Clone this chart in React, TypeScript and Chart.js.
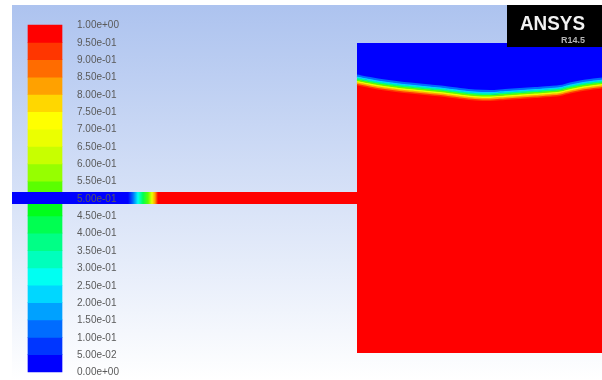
import { useEffect, useRef } from "react";
import { Chart, registerables } from "chart.js";

Chart.register(...registerables);

// ---- Legend (contour levels of volume fraction) ----
const levels = [0, 0.05, 0.1, 0.15, 0.2, 0.25, 0.3, 0.35, 0.4, 0.45, 0.5, 0.55, 0.6, 0.65, 0.7, 0.75, 0.8, 0.85, 0.9, 0.95, 1.0];
const levelLabels = [
  "0.00e+00", "5.00e-02", "1.00e-01", "1.50e-01", "2.00e-01", "2.50e-01", "3.00e-01",
  "3.50e-01", "4.00e-01", "4.50e-01", "5.00e-01", "5.50e-01", "6.00e-01", "6.50e-01",
  "7.00e-01", "7.50e-01", "8.00e-01", "8.50e-01", "9.00e-01", "9.50e-01", "1.00e+00",
];
const bandColors = [
  "#0000ff", "#0036ff", "#006cff", "#00a1ff", "#00d7ff", "#00fff2", "#00ffbc",
  "#00ff86", "#00ff51", "#00ff1b", "#5aff00", "#96ff00", "#c8ff00", "#ebff00",
  "#ffff00", "#ffd700", "#ffa100", "#ff6c00", "#ff3600", "#ff0000",
];

// ---- Inlet channel: volume fraction along the channel ----
const channelX = [12, 128, 133, 138, 143, 148, 152, 155, 158, 357];
const channelPhi = [0, 0, 0.12, 0.27, 0.4, 0.5, 0.68, 0.8, 1, 1];

// ---- Tank: free-surface (interface) profile ----
const interfaceX = [357, 370, 385, 400, 415, 430, 445, 460, 475, 490, 505, 520, 535, 550, 560, 570, 580, 590, 602];
const interfaceY = [80, 82.5, 85, 87, 88.5, 90, 91.5, 93.5, 95, 95.5, 94.5, 93.5, 92.5, 91.5, 90.5, 88, 86, 84.5, 83];

// transition layer across the interface
const bandOffsets = [-4.5, -3, -1.5, 0, 1.5, 3, 4.5];
const bandPhi = [0.1, 0.22, 0.38, 0.5, 0.68, 0.8, 0.92];

// ---- layout (figure units) ----
const W = 602;
const H = 380;
const FRAME_LEFT = 12;
const FRAME_TOP = 5;
const BAR_X = 45;
const BAR_WIDTH = 34;
const BAR_TOP = 25;
const BAR_BOTTOM = 372;
const LABEL_X = 77;
const CHANNEL = { x0: 12, x1: 357, top: 192, bottom: 204 };
const TANK = { left: 357, right: 602, top: 43, bottom: 353 };
const LOGO = { x: 507, y: 5, w: 95, h: 42 };

const colorFor = (phi: number) =>
  bandColors[Math.min(bandColors.length - 1, Math.max(0, Math.floor(phi * 20 + 1e-9)))];

const TRANSPARENT = "rgba(0,0,0,0)";

const bgPlugin = {
  id: "bg",
  beforeDraw(chart: any) {
    const ctx = chart.ctx;
    ctx.save();
    ctx.fillStyle = "#ffffff";
    ctx.fillRect(0, 0, W, H);
    const g = ctx.createLinearGradient(0, FRAME_TOP, 0, H);
    g.addColorStop(0, "#adc3ef");
    g.addColorStop(1, "#ffffff");
    ctx.fillStyle = g;
    ctx.fillRect(FRAME_LEFT, FRAME_TOP, W - FRAME_LEFT, H - FRAME_TOP);
    ctx.restore();
  },
};

const overlayPlugin = {
  id: "overlay",
  afterDraw(chart: any) {
    const ctx = chart.ctx;
    const yb = chart.scales.yBar;
    ctx.save();
    ctx.font = '10px "Liberation Sans", Arial, sans-serif';
    ctx.fillStyle = "#5a5a5a";
    ctx.textAlign = "left";
    ctx.textBaseline = "middle";
    levels.forEach((v, i) => {
      ctx.fillText(levelLabels[i], LABEL_X, yb.getPixelForValue(v) + 0.5);
    });

    // ANSYS logo
    ctx.fillStyle = "#000000";
    ctx.fillRect(LOGO.x, LOGO.y, LOGO.w, LOGO.h);
    ctx.font = 'bold 21px "Liberation Sans", Arial, sans-serif';
    ctx.textBaseline = "alphabetic";
    const tw = ctx.measureText("ANSYS").width;
    ctx.save();
    ctx.translate(520, 30);
    ctx.scale(65 / tw, 1);
    ctx.fillStyle = "#f2f2f2";
    ctx.fillText("ANSYS", 0, 0);
    ctx.restore();
    ctx.font = 'bold 9px "Liberation Sans", Arial, sans-serif';
    ctx.fillStyle = "#b4b4b4";
    ctx.textAlign = "right";
    ctx.fillText("R14.5", 585, 43);
    ctx.restore();
  },
};

export default function App() {
  const ref = useRef<HTMLCanvasElement | null>(null);

  useEffect(() => {
    if (!ref.current) return;
    const pts = (xs: number[], ys: number[], off = 0) => xs.map((x, i) => ({ x, y: ys[i] + off }));

    const channelFill = (c: any) => {
      const chart = c.chart;
      const xs = chart.scales?.x;
      if (!chart.chartArea || !xs) return bandColors[0];
      const p0 = xs.getPixelForValue(channelX[0]);
      const p1 = xs.getPixelForValue(channelX[channelX.length - 1]);
      const g = chart.ctx.createLinearGradient(p0, 0, p1, 0);
      channelX.forEach((x, i) => {
        g.addColorStop((xs.getPixelForValue(x) - p0) / (p1 - p0), colorFor(channelPhi[i]));
      });
      return g;
    };

    const bandSets = bandOffsets.map((off, k) => ({
      type: "line" as const,
      label: "interface-" + k,
      data: pts(interfaceX, interfaceY, off),
      borderColor: colorFor(bandPhi[k]),
      borderWidth: 1.9,
      borderCapStyle: "butt",
      fill: false,
      cubicInterpolationMode: "monotone",
      order: 20,
    }));

    const chart = new Chart(ref.current, {
      type: "line",
      data: {
        datasets: [
          {
            type: "line",
            label: "channel",
            data: [
              { x: CHANNEL.x0, y: CHANNEL.top },
              { x: CHANNEL.x1, y: CHANNEL.top },
            ],
            borderColor: TRANSPARENT,
            borderWidth: 0,
            fill: "+1",
            backgroundColor: channelFill,
            order: 10,
          },
          {
            type: "line",
            label: "channel-bottom",
            data: [
              { x: CHANNEL.x0, y: CHANNEL.bottom },
              { x: CHANNEL.x1, y: CHANNEL.bottom },
            ],
            borderColor: TRANSPARENT,
            borderWidth: 0,
            fill: false,
            order: 10,
          },
          ...bandSets,
          {
            type: "line",
            label: "air",
            data: pts(interfaceX, interfaceY),
            borderColor: TRANSPARENT,
            borderWidth: 0,
            fill: { value: TANK.top },
            backgroundColor: bandColors[0],
            cubicInterpolationMode: "monotone",
            order: 30,
          },
          {
            type: "line",
            label: "water",
            data: [
              { x: TANK.left, y: TANK.top },
              { x: TANK.right, y: TANK.top },
            ],
            borderColor: TRANSPARENT,
            borderWidth: 0,
            fill: { value: TANK.bottom },
            backgroundColor: bandColors[bandColors.length - 1],
            order: 40,
          },
          {
            type: "bar",
            label: "legend",
            yAxisID: "yBar",
            xAxisID: "x",
            data: bandColors.map((_, i) => ({ x: BAR_X, y: [levels[i], levels[i + 1]] })),
            backgroundColor: bandColors,
            borderWidth: 0,
            barThickness: BAR_WIDTH,
            grouped: false,
            order: 50,
          },
        ] as any,
      },
      options: {
        animation: false,
        responsive: false,
        devicePixelRatio: 1,
        events: [],
        layout: { padding: 0, autoPadding: false },
        elements: { point: { radius: 0 } },
        plugins: {
          legend: { display: false },
          tooltip: { enabled: false },
          title: { display: false },
        },
        scales: {
          x: { type: "linear", min: 0, max: W, offset: false, display: false },
          y: { type: "linear", min: 0, max: H, reverse: true, offset: false, display: false },
          yBar: {
            type: "linear",
            display: false,
            offset: false,
            min: -(H - BAR_BOTTOM) / (BAR_BOTTOM - BAR_TOP),
            max: BAR_BOTTOM / (BAR_BOTTOM - BAR_TOP),
          },
        },
      } as any,
      plugins: [bgPlugin, overlayPlugin],
    });
    return () => chart.destroy();
  }, []);

  return (
    <div style={{ position: "fixed", left: 0, top: 0, width: W, height: H }}>
      <canvas ref={ref} width={W} height={H} style={{ display: "block", width: W, height: H }} />
    </div>
  );
}
